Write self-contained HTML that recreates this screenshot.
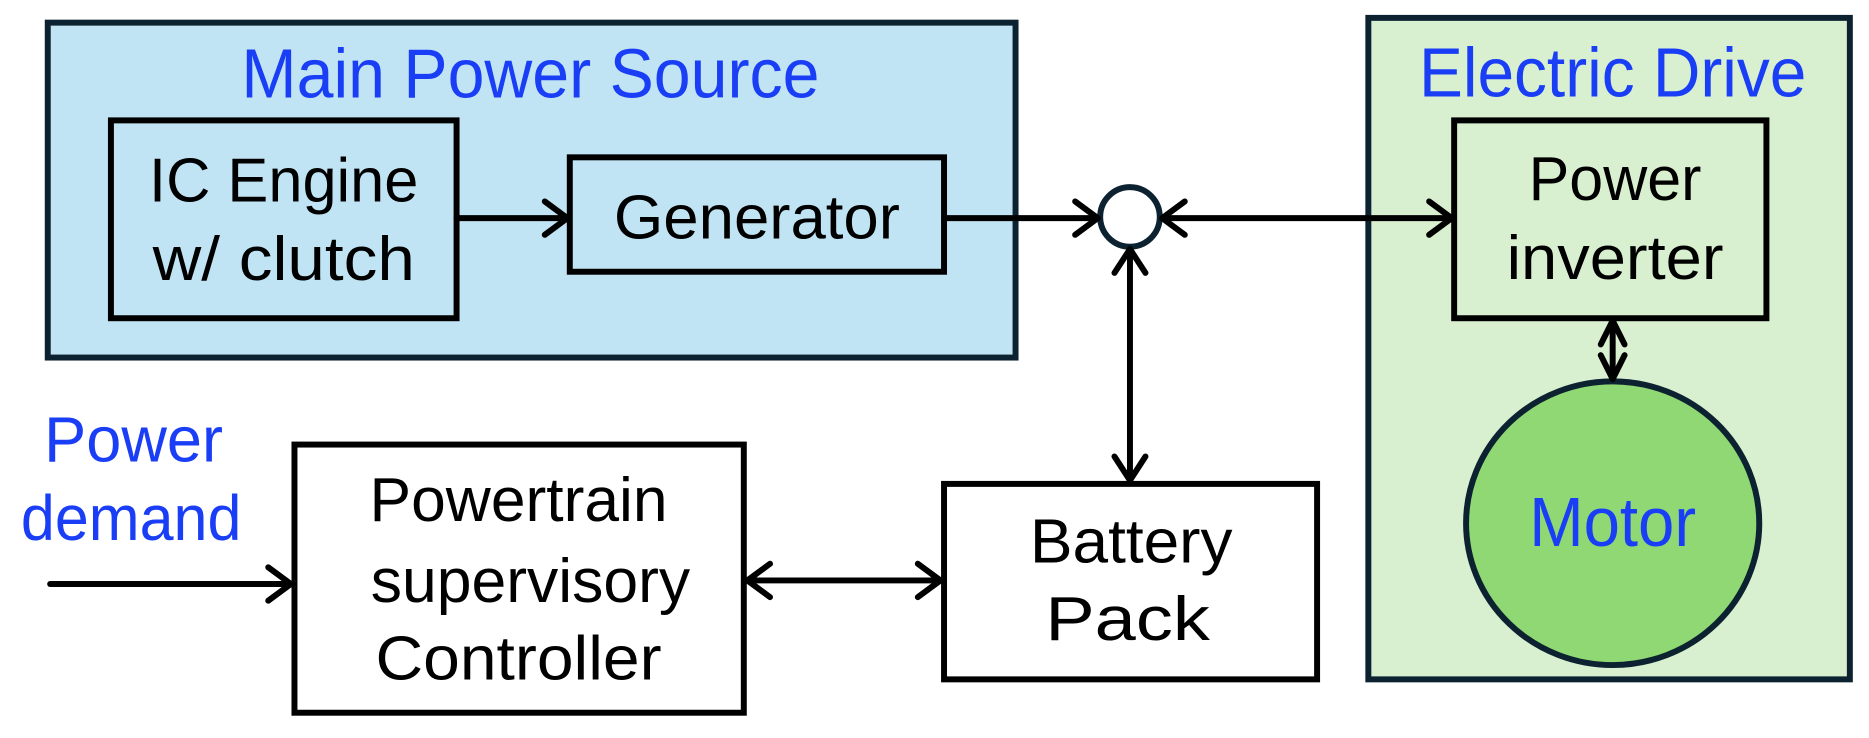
<!DOCTYPE html>
<html><head><style>html,body{margin:0;padding:0;background:#fff;}svg{display:block;}</style></head>
<body>
<svg width="1869" height="738" viewBox="0 0 1568 619.2" xmlns="http://www.w3.org/2000/svg" font-family="'Liberation Sans Narrow', 'Liberation Sans', sans-serif">
<rect x="0" y="0" width="1568" height="620" fill="#fff"/>
<rect x="40" y="19" width="812" height="281" fill="#c1e4f4" stroke="#0c2230" stroke-width="5"/>
<text x="445" y="82" font-size="58" fill="#1a3ef5" text-anchor="middle" textLength="485" lengthAdjust="spacingAndGlyphs">Main Power Source</text>
<rect x="93" y="101" width="290" height="166" fill="none" stroke="#000" stroke-width="5"/>
<text x="238" y="169" font-size="52" text-anchor="middle" textLength="226" lengthAdjust="spacingAndGlyphs">IC Engine</text>
<text x="238" y="235" font-size="52" text-anchor="middle" textLength="220" lengthAdjust="spacingAndGlyphs">w/ clutch</text>
<rect x="478" y="132" width="314" height="96" fill="none" stroke="#000" stroke-width="5"/>
<text x="635" y="200" font-size="52" text-anchor="middle" textLength="240" lengthAdjust="spacingAndGlyphs">Generator</text>
<rect x="1148" y="15" width="404" height="555" fill="#d9f0d0" stroke="#0c2230" stroke-width="5"/>
<text x="1353" y="81" font-size="58" fill="#1a3ef5" text-anchor="middle" textLength="325" lengthAdjust="spacingAndGlyphs">Electric Drive</text>
<rect x="1220" y="101" width="262" height="166" fill="none" stroke="#000" stroke-width="5"/>
<text x="1355" y="168" font-size="52" text-anchor="middle" textLength="145" lengthAdjust="spacingAndGlyphs">Power</text>
<text x="1355" y="234" font-size="52" text-anchor="middle" textLength="182" lengthAdjust="spacingAndGlyphs">inverter</text>
<ellipse cx="1353" cy="439" rx="123" ry="119" fill="#8fd874" stroke="#0c2230" stroke-width="5"/>
<text x="1353" y="458" font-size="58" fill="#1a3ef5" text-anchor="middle" textLength="140" lengthAdjust="spacingAndGlyphs">Motor</text>
<rect x="247" y="373" width="377" height="225" fill="none" stroke="#000" stroke-width="5"/>
<text x="435" y="437" font-size="52" text-anchor="middle" textLength="250" lengthAdjust="spacingAndGlyphs">Powertrain</text>
<text x="445" y="505" font-size="52" text-anchor="middle" textLength="268" lengthAdjust="spacingAndGlyphs">supervisory</text>
<text x="435" y="570" font-size="52" text-anchor="middle" textLength="240" lengthAdjust="spacingAndGlyphs">Controller</text>
<rect x="792" y="406" width="313" height="164" fill="none" stroke="#000" stroke-width="5"/>
<text x="949" y="472" font-size="52" text-anchor="middle" textLength="170" lengthAdjust="spacingAndGlyphs">Battery</text>
<text x="946" y="537" font-size="52" text-anchor="middle" textLength="138" lengthAdjust="spacingAndGlyphs">Pack</text>
<text x="112" y="387" font-size="54" fill="#1a3ef5" text-anchor="middle" textLength="150" lengthAdjust="spacingAndGlyphs">Power</text>
<text x="110" y="453" font-size="54" fill="#1a3ef5" text-anchor="middle" textLength="185" lengthAdjust="spacingAndGlyphs">demand</text>
<circle cx="948" cy="182" r="25" fill="#fff" stroke="#0c2230" stroke-width="5"/>
<g stroke="#000" stroke-width="5" fill="none" stroke-linecap="round" stroke-linejoin="round">
<line x1="383" y1="183" x2="476" y2="183"/><polyline points="457,169 476,183 457,197"/>
<line x1="792" y1="183" x2="921" y2="183"/><polyline points="902,169 921,183 902,197"/>
<line x1="975" y1="183" x2="1218" y2="183"/><polyline points="994,169 975,183 994,197"/><polyline points="1199,169 1218,183 1199,197"/>
<line x1="948" y1="209" x2="948" y2="403"/><polyline points="935,229 948,209 961,229"/><polyline points="935,383 948,403 961,383"/>
<line x1="1353" y1="269" x2="1353" y2="318"/><polyline points="1343,289 1353,269 1363,289"/><polyline points="1343,298 1353,318 1363,298"/>
<line x1="42" y1="490" x2="244" y2="490"/><polyline points="225,476 244,490 225,504"/>
<line x1="627" y1="487" x2="789" y2="487"/><polyline points="646,473 627,487 646,501"/><polyline points="770,473 789,487 770,501"/>
</g>
</svg>
</body></html>
